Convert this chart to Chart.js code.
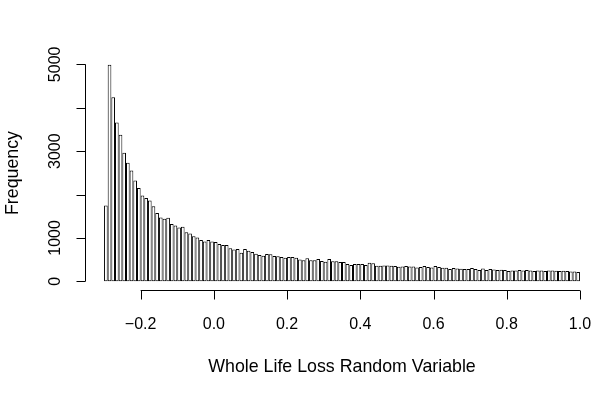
<!DOCTYPE html>
<html><head><meta charset="utf-8">
<script src="https://cdn.jsdelivr.net/npm/chart.js@4"></script>
<style>html,body{margin:0;padding:0;background:#fff}#wrap{width:603px;height:395px}</style>
</head><body><div id="wrap"><canvas id="c" width="603" height="395"></canvas></div>
<script>
// Histogram bins: start and width of each bin
const binStart = -0.3;
const binWidth = 0.01;
// Frequencies per bin
const counts = [
 1745,4993,4241,3661,3376,2966,2733,2556,2324,2153,
 1977,1921,1861,1729,1573,1473,1443,1465,1322,1288,
 1241,1257,1133,1102,1040,1009,955,917,955,917,
 909,862,839,839,762,731,746,661,746,707,
 677,638,607,592,630,622,584,580,561,546,
 561,561,546,506,484,530,484,484,515,468,
 453,515,460,460,445,445,398,375,398,398,
 398,375,430,414,360,360,367,367,360,352,
 336,344,352,344,344,321,329,352,329,321,
 352,329,313,313,282,305,298,290,282,282,
 305,282,259,298,259,282,274,259,267,259,
 236,251,251,259,251,259,251,236,251,251,
 236,251,251,244,236,244,236,228,228,213];
const xTicks = [-0.2, 0.0, 0.2, 0.4, 0.6, 0.8, 1.0];
const xTickLabels = ["\u22120.2", "0.0", "0.2", "0.4", "0.6", "0.8", "1.0"];
const yTicks = [0, 1000, 2000, 3000, 4000, 5000];
const yTickLabels = ["0", "1000", "", "3000", "", "5000"];
const xTitle = "Whole Life Loss Random Variable";
const yTitle = "Frequency";

const mids = counts.map((_, i) => +(binStart + binWidth * (i + 0.5)).toFixed(4));
const points = counts.map((c, i) => ({x: mids[i], y: c}));

const xMin = binStart, xMax = binStart + binWidth * counts.length;
const xPad = (xMax - xMin) * 0.04;
const yMaxData = Math.max(...counts);
const yPad = yMaxData * 0.04;

const FONT = '"Liberation Sans", Arial, sans-serif';

const rAxes = {
  id: 'rAxes',
  afterDraw(chart) {
    const ctx = chart.ctx, xs = chart.scales.x, ys = chart.scales.y;
    const area = chart.chartArea;
    ctx.save();
    ctx.strokeStyle = '#000';
    ctx.fillStyle = '#000';
    ctx.lineWidth = 1;
    const tl = 9;
    // x axis
    const yA = Math.round(area.bottom) + 0.5;
    ctx.beginPath();
    ctx.moveTo(xs.getPixelForValue(xTicks[0]), yA);
    ctx.lineTo(xs.getPixelForValue(xTicks[xTicks.length-1]), yA);
    xTicks.forEach(v => { const p = Math.round(xs.getPixelForValue(v)) + 0.5; ctx.moveTo(p, yA); ctx.lineTo(p, yA + tl); });
    ctx.stroke();
    ctx.font = '16px ' + FONT;
    ctx.textAlign = 'center'; ctx.textBaseline = 'middle';
    xTicks.forEach((v, i) => ctx.fillText(xTickLabels[i], xs.getPixelForValue(v), yA + 34));
    // y axis
    const xA = Math.round(area.left) + 0.5;
    ctx.beginPath();
    ctx.moveTo(xA, ys.getPixelForValue(yTicks[0]));
    ctx.lineTo(xA, ys.getPixelForValue(yTicks[yTicks.length-1]));
    yTicks.forEach(v => { const p = Math.round(ys.getPixelForValue(v)) + 0.5; ctx.moveTo(xA, p); ctx.lineTo(xA - tl, p); });
    ctx.stroke();
    yTicks.forEach((v, i) => {
      if (!yTickLabels[i]) return;
      ctx.save();
      ctx.translate(xA - 30, ys.getPixelForValue(v));
      ctx.rotate(-Math.PI / 2);
      ctx.fillText(yTickLabels[i], 0, 0);
      ctx.restore();
    });
    ctx.font = '17.8px ' + FONT;
    ctx.fillText(xTitle, (area.left + area.right) / 2, yA + 77);
    ctx.save();
    ctx.translate(13, (area.top + area.bottom) / 2);
    ctx.rotate(-Math.PI / 2);
    ctx.fillText(yTitle, 0, 0);
    ctx.restore();
    ctx.restore();
  }
};

new Chart(document.getElementById('c'), {
  type: 'bar',
  data: { datasets: [{
    data: points,
    backgroundColor: '#ffffff',
    borderColor: '#000000',
    borderWidth: 1,
    borderSkipped: false,
    inflateAmount: 0,
    barPercentage: 1.0,
    categoryPercentage: 1.0
  }]},
  options: {
    responsive: false, animation: false,
    layout: { padding: { left: 85, right: 4, top: 56, bottom: 105 } },
    plugins: { legend: {display: false}, tooltip: {enabled: false} },
    scales: {
      x: { type: 'linear', display: false, offset: false, grid: {offset: false}, min: xMin - xPad, max: xMax + xPad },
      y: { display: false, min: -yPad, max: yMaxData + yPad }
    }
  },
  plugins: [rAxes]
});
</script></body></html>
